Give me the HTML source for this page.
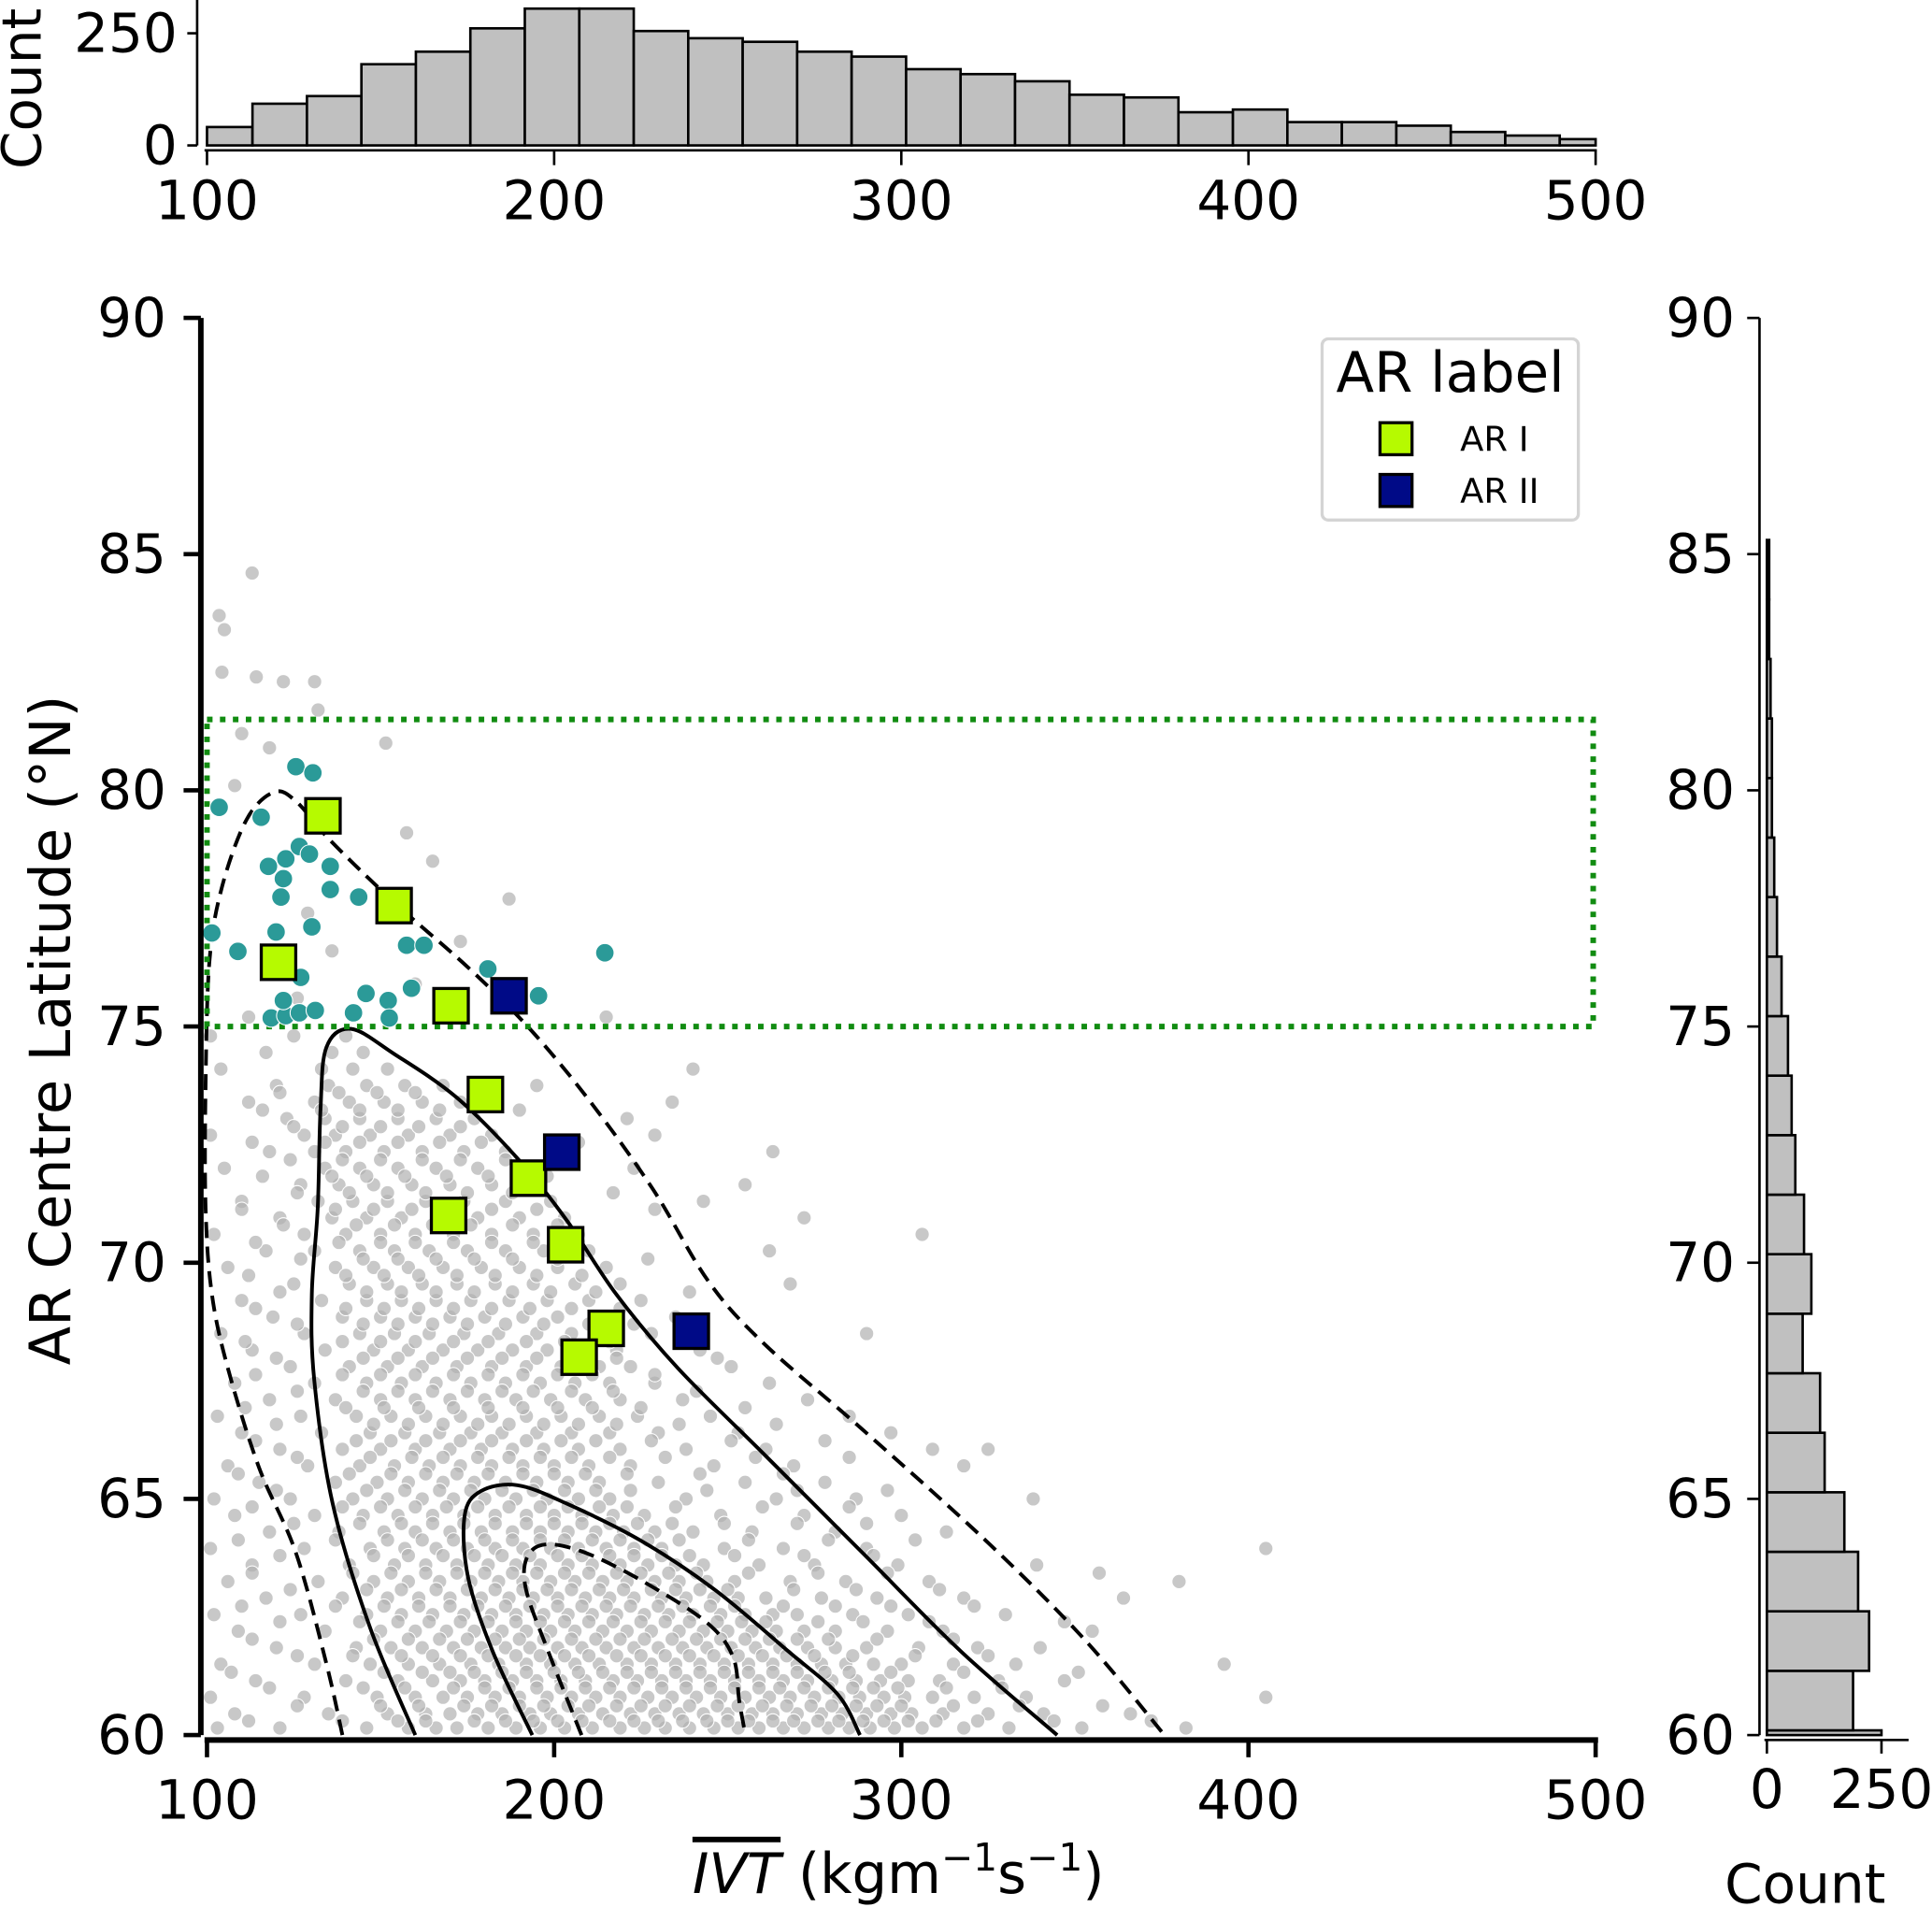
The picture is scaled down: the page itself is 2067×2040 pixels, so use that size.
<!DOCTYPE html>
<html><head><meta charset="utf-8"><style>
html,body{margin:0;padding:0;background:#fff;}
svg{display:block;font-family:"DejaVu Sans","Liberation Sans",sans-serif;}
</style></head><body>
<svg id="chart" width="2067" height="2040" viewBox="0 0 1568 1547.5" xmlns="http://www.w3.org/2000/svg">
<g id="marks"></g>
</svg>
<script>
// ---------- data ----------
const xTicks = [100, 200, 300, 400, 500];
const yTicks = [60, 65, 70, 75, 80, 85, 90];
const topHistEdgeStart = 113.1;
const topHistStep = 15.69;
const topHistCounts = [41, 93, 110, 181, 209, 261, 305, 305, 255, 239, 231, 209, 198, 170, 159, 143, 113, 107, 74, 80, 52, 52, 44, 30, 22, 14];
const topHistTicks = [0, 250];
const rightHistEdgeStart = 60.1;
const rightHistStep = 1.26;
const rightHistLow = 250;
const rightHistCounts = [188, 223, 199, 169, 126, 116, 78, 97, 81, 62, 54, 46, 32, 22, 16, 11, 11, 8, 5, 5];
const rightHistTicks = [0, 250];
const greyRowLat = [60.15,60.45,60.8,61.15,61.5,61.85,62.2,62.55,62.9,63.25,63.6,63.95,64.3,64.65,65.0,65.35,65.7,66.05,66.4,66.75,67.1,67.45,67.8,68.15,68.5,68.85,69.2,69.55,69.9,70.25,70.6,70.95,71.3,71.65,72.0,72.35,72.7,73.05,73.4,73.75,74.1,74.45,74.8,75.2];
const greyRowIVT = [
[103,121,146,158,166,172,181,189,196,203,211,219,226,232,239,246,253,259,266,272,279,285,291,298,306,318,331,352,382],
[108,135,152,163,170,178,185,193,199,207,214,222,229,236,243,250,257,263,270,277,283,290,297,303,312,325,341,366],
[101,128,149,160,168,175,183,190,198,205,212,219,227,234,241,248,255,262,268,275,282,288,295,301,309,321,336,405],
[114,140,155,165,173,180,188,195,202,209,217,224,231,238,245,252,259,266,273,280,287,294,302,311,328,347],
[104,131,147,158,167,176,184,192,199,206,213,221,228,235,242,249,256,263,270,277,284,292,300,315,333,393],
[120,143,153,162,171,179,186,193,201,208,215,223,230,237,244,251,258,265,273,281,290,305,322,340],
[109,134,150,160,169,177,185,192,199,206,214,221,228,236,243,250,257,264,272,281,296,312,355],
[102,127,146,156,165,174,182,189,197,204,211,218,226,233,240,248,255,263,270,286,302,330],
[117,139,152,161,170,179,187,194,201,209,216,223,231,238,246,253,261,277,293,318,364],
[106,132,148,158,167,176,184,191,199,206,214,221,229,236,244,252,268,284,308,380],
[113,141,154,163,172,181,189,196,204,211,219,227,235,243,259,275,299,339],
[101,128,147,157,166,175,183,191,199,207,215,223,231,249,266,290,405],
[118,138,151,160,170,179,188,196,204,212,220,229,240,257,281,313],
[108,131,145,155,165,174,183,192,200,208,217,226,248,272,300],
[102,124,142,152,162,171,180,189,198,207,216,238,264,287,338],
[115,137,149,158,168,177,186,195,204,213,230,255,278],
[106,129,144,154,164,173,182,191,200,210,222,246,269,318],
[121,139,150,160,170,179,188,197,207,219,238,261,309,325],
[110,133,147,157,167,176,185,195,205,216,230,253,297],
[103,127,143,153,163,173,182,192,202,213,224,245,285],
[118,137,150,160,170,180,189,199,209,219,237,273],
[108,131,146,156,166,176,186,196,206,216,229,262],
[124,141,152,162,172,182,192,202,213,222,251],
[113,134,148,158,168,178,188,198,209,218,242],
[104,128,144,154,164,174,184,195,205,228,290],
[119,139,150,160,170,180,191,201,214,235],
[110,133,146,156,166,176,187,198,210,225],
[125,141,152,162,172,183,194,206,219,268],
[106,137,148,158,168,179,190,201,215],
[117,131,144,154,164,175,186,197,210,262],
[102,128,140,150,160,171,182,194,207,306],
[121,136,146,156,167,178,190,203,272],
[110,132,142,152,163,174,186,199,243],
[127,138,148,159,170,182,195,255],
[105,134,144,155,166,178,190,223],
[118,131,140,151,162,174,186,263],
[101,128,137,147,158,170,182,229],
[123,134,144,155,166,177,221],
[112,131,141,151,162,173,234],
[120,135,146,157,168,195],
[104,133,142,152,240],
[117,136,145],
[101,125,140],
[112,215]
];
const greyRow2Lat = [60.3,60.62,61.0,61.33,61.68,62.03,62.4,62.73,63.08,63.43,63.8,64.13,64.48,64.83,65.18,65.53,65.88,66.23,66.58,66.93,67.28,67.63,67.98,68.33,68.7,69.03,69.38,69.73,70.08,70.43,70.8,71.13,71.48,71.83,72.18,72.55,72.88,73.23,73.6];
const greyRow2IVT = [
[112,139,155,163,177,186,194,201,208,216,223,230,237,244,250,256,263,269,276,282,289,295,302,310,322,344,372],
[126,150,161,174,182,190,197,204,210,218,225,232,239,247,253,260,267,274,280,287,293,300,315,334,358],
[118,145,157,171,180,187,195,202,209,216,223,231,238,245,252,259,265,272,279,286,292,299,313,329],
[107,151,162,170,177,185,192,200,207,214,221,228,235,242,249,256,263,270,278,285,297,318,351],
[126,142,156,165,173,181,189,196,203,210,218,225,232,239,246,253,260,267,275,286,304,325],
[113,148,158,167,175,183,190,197,205,212,219,226,234,241,248,255,262,270,279,293,315],
[121,144,155,164,173,181,189,196,203,210,217,225,232,239,247,254,261,276,289,308,347],
[110,137,151,161,170,178,186,193,201,208,215,222,230,237,245,252,266,281,297,321],
[124,146,156,166,175,183,191,198,205,213,220,228,235,242,250,269,287,311],
[113,142,153,163,172,180,188,195,203,210,218,225,233,241,256,276,296,357],
[121,148,158,168,177,185,193,201,208,216,223,231,239,252,272,292],
[109,137,152,162,171,180,188,196,203,211,219,227,236,256,279,304],
[125,144,156,165,174,183,192,200,208,216,224,234,249,270,290],
[113,139,150,160,169,178,187,196,204,213,221,235,260,285],
[120,146,157,167,176,185,194,203,212,222,244,270,296],
[109,141,153,163,172,181,191,200,209,221,242,266],
[126,147,159,168,178,187,196,205,216,232,258,285],
[114,143,153,163,173,182,192,202,212,228,251,278],
[120,148,158,168,178,187,197,207,218,236,264],
[111,140,151,161,171,181,191,201,211,225,255],
[126,145,155,165,175,185,194,205,217,241],
[114,139,150,160,171,181,191,201,211,229],
[120,145,155,165,175,185,195,206,218,247],
[111,139,150,160,171,181,192,203,216,236],
[126,145,155,165,175,186,197,210,223],
[114,140,151,161,171,182,193,205,219],
[121,146,156,166,177,188,199,212,239],
[112,140,151,161,172,183,195,208],
[127,145,155,166,177,188,201,227],
[114,138,150,160,171,182,194,207],
[122,143,154,165,176,188,201],
[110,137,148,159,170,182,195,229],
[126,141,152,163,175,188,217],
[116,136,146,157,169,181,198],
[124,139,150,162,173,186],
[113,134,144,155,167,179,207],
[125,139,150,161,173],
[116,133,144,155,167,190],
[121,138,149,160]
];
const outlierIVT = [103.5,105,113,104.3,114.2,122,131,132,151.5,157.5,187,165,110,118,108,129,136,126,173,160];
const outlierLat = [83.7,83.4,84.6,82.5,82.4,82.3,82.3,81.7,81.0,79.1,77.7,78.5,81.2,80.9,80.1,77.4,76.6,75.6,76.8,75.9];
const tealIVT = [103.5,115.6,125.6,130.5,117.7,122.7,126.6,129.5,122.0,135.5,121.3,135.5,143.7,130.2,119.9,108.9,101.4,157.5,162.5,180.9,214.6,127.0,158.9,145.8,152.2,195.5,118.5,122.7,126.6,131.2,142.2,152.5,122.0];
const tealLat = [79.64,79.43,80.5,80.37,78.39,78.55,78.81,78.65,78.13,78.39,77.74,77.9,77.74,77.11,77.0,76.59,76.98,76.72,76.72,76.22,76.56,76.04,75.81,75.7,75.55,75.65,75.18,75.23,75.29,75.34,75.29,75.18,75.55];
const ar1IVT = [133.4,153.9,120.6,170.3,180.2,192.6,169.6,203.3,215.0,207.2];
const ar1Lat = [79.46,77.56,76.36,75.44,73.56,71.79,71.0,70.38,68.61,68.0];
const ar2IVT = [187.0,202.2,239.5];
const ar2Lat = [75.65,72.34,68.55];
const boxIVT = [100, 499.3];
const boxLat = [75.0, 81.5];
const outerDashIVT = [139.0,134.4,125.6,114.9,106.0,101.4,99.6,99.6,100.7,104.3,111.4,119.2,125.6,135.5,153.9,175.2,193.0,210.7,228.5,244.5,260.4,288.8,324.3,352.7,375.8];
const outerDashLat = [60.0,61.51,63.86,65.68,67.77,69.34,71.16,73.77,76.38,77.95,79.38,79.96,79.77,78.94,77.63,76.25,74.95,73.38,71.55,69.6,68.29,66.47,64.12,62.03,60.0];
const outerSolidIVT = [160.0,146.9,136.2,130.9,130.2,131.9,132.7,134.4,141.5,153.9,171.7,189.4,203.6,217.8,235.6,260.4,288.8,317.2,344.9];
const outerSolidLat = [60,62.29,64.9,67.51,69.34,71.16,73.25,74.56,74.95,74.42,73.51,72.21,70.9,69.34,67.77,65.95,63.86,61.77,60];
const innerSolidIVT = [193.7,182.3,175.2,174.2,178.8,189.4,203.6,224.9,246.2,267.5,281.7,288.1];
const innerSolidLat = [60,61.77,63.34,64.64,65.16,65.29,64.9,64.12,63.08,61.77,60.86,60];
const innerDashIVT = [207.9,198.3,191.9,192.3,198.3,210.7,228.5,244.5,251.6,253.3,255.1];
const innerDashLat = [60,61.77,63.08,63.78,64.04,63.81,63.13,62.35,61.64,60.73,60];

// ---------- scales ----------
const X0 = 168, X1 = 1295, Y60 = 1408, Y90 = 258;
const sx = v => X0 + (v - 100) * (X1 - X0) / 400;
const sy = v => Y60 - (v - 60) * (Y60 - Y90) / 30;
const TOP_BASE = 118, topPx = 91 / 250;
const tyc = c => TOP_BASE - c * topPx;
const R_BASE = 1434, rPx = 93 / 250;
const rxc = c => R_BASE + c * rPx;

const NS = "http://www.w3.org/2000/svg";
const root = document.getElementById('marks');
function mk(tag, attrs, parent) {
  const e = document.createElementNS(NS, tag);
  for (const k in attrs) e.setAttribute(k, attrs[k]);
  (parent || root).appendChild(e);
  return e;
}
function txt(s, attrs, parent) { const e = mk('text', attrs, parent); e.textContent = s; return e; }
const FS = 44;

// ---------- top histogram ----------
const gTop = mk('g', {});


for (let i = 0; i < topHistCounts.length; i++) {
  let a = i === 0 ? 100 : topHistEdgeStart + (i - 1) * topHistStep;
  let b = Math.min(500, topHistEdgeStart + i * topHistStep);
  const r = mk('rect', {x: sx(a), y: tyc(topHistCounts[i]), width: sx(b) - sx(a), height: TOP_BASE - tyc(topHistCounts[i]), fill: '#c0c0c0', stroke: '#000', 'stroke-width': 2}, gTop);
  
  
}
mk('line', {x1: 160, y1: 0, x2: 160, y2: 118, stroke: '#000', 'stroke-width': 2}, gTop);
mk('line', {x1: 166, y1: 122, x2: 1296, y2: 122, stroke: '#000', 'stroke-width': 2}, gTop);
topHistTicks.forEach(t => {
  mk('line', {x1: 152, y1: tyc(t), x2: 160, y2: tyc(t), stroke: '#000', 'stroke-width': 2}, gTop);
  const l = txt(String(t), {x: 144, y: tyc(t) + 15, 'font-size': FS, 'text-anchor': 'end'}, gTop);
  
  
});
xTicks.forEach(t => {
  mk('line', {x1: sx(t), y1: 122, x2: sx(t), y2: 134, stroke: '#000', 'stroke-width': 2}, gTop);
  const l = txt(String(t), {x: sx(t), y: 178, 'font-size': FS, 'text-anchor': 'middle'}, gTop);
  
  
});
const tc = txt('Count', {x: 0, y: 0, 'font-size': FS, 'text-anchor': 'middle', transform: 'translate(33,72) rotate(-90)'}, gTop);



// ---------- right histogram ----------
const gR = mk('g', {});


{
  const r0 = mk('rect', {x: R_BASE, y: sy(rightHistEdgeStart), width: rxc(rightHistLow) - R_BASE, height: sy(60) - sy(rightHistEdgeStart), fill: '#c0c0c0', stroke: '#000', 'stroke-width': 2}, gR);
  
  
}
for (let i = 0; i < rightHistCounts.length; i++) {
  const a = rightHistEdgeStart + i * rightHistStep, b = a + rightHistStep;
  const r = mk('rect', {x: R_BASE, y: sy(b), width: rxc(rightHistCounts[i]) - R_BASE, height: sy(a) - sy(b), fill: '#c0c0c0', stroke: '#000', 'stroke-width': 2}, gR);
  
  
}
mk('line', {x1: 1428, y1: sy(90), x2: 1428, y2: sy(60), stroke: '#000', 'stroke-width': 2}, gR);
mk('line', {x1: 1432, y1: 1412, x2: 1549, y2: 1412, stroke: '#000', 'stroke-width': 2}, gR);
yTicks.forEach(t => {
  mk('line', {x1: 1418, y1: sy(t), x2: 1428, y2: sy(t), stroke: '#000', 'stroke-width': 2}, gR);
  const l = txt(String(t), {x: 1408, y: sy(t) + 15, 'font-size': FS, 'text-anchor': 'end'}, gR);
  
  
});
rightHistTicks.forEach(t => {
  mk('line', {x1: rxc(t), y1: 1412, x2: rxc(t), y2: 1423, stroke: '#000', 'stroke-width': 2}, gR);
  const l = txt(String(t), {x: rxc(t), y: 1467, 'font-size': FS, 'text-anchor': 'middle'}, gR);
  
  
});
const rc = txt('Count', {x: 1465, y: 1544, 'font-size': FS, 'text-anchor': 'middle'}, gR);



// ---------- main scatter ----------
const gM = mk('g', {});


const gGrey = mk('g', {}, gM);


function greyDot(v, lat) {
  const c = mk('circle', {cx: sx(v), cy: sy(lat), r: 5.8, fill: '#b0b0b0', 'fill-opacity': 0.7, stroke: '#fff', 'stroke-width': 0.8}, gGrey);
  
  
}
greyRowLat.forEach((lat, j) => greyRowIVT[j].forEach(v => greyDot(v, lat)));
greyRow2Lat.forEach((lat, j) => greyRow2IVT[j].forEach(v => greyDot(v, lat)));
outlierIVT.forEach((v, i) => greyDot(v, outlierLat[i]));

// contours
function curve(xs, ys, dash, name) {
  const pts = xs.map((v, i) => [sx(v), sy(ys[i])]);
  let d = 'M' + pts[0][0] + ',' + pts[0][1];
  for (let i = 0; i < pts.length - 1; i++) {
    const p0 = pts[Math.max(0, i - 1)], p1 = pts[i], p2 = pts[i + 1], p3 = pts[Math.min(pts.length - 1, i + 2)];
    const c1 = [p1[0] + (p2[0] - p0[0]) / 6, p1[1] + (p2[1] - p0[1]) / 6];
    const c2 = [p2[0] - (p3[0] - p1[0]) / 6, p2[1] - (p3[1] - p1[1]) / 6];
    d += ' C' + c1.join(',') + ' ' + c2.join(',') + ' ' + p2.join(',');
  }
  const p = mk('path', {d: d, fill: 'none', stroke: '#000', 'stroke-width': 3, 'stroke-dasharray': dash ? '13,7' : 'none'}, gM);
  
  
}
curve(outerDashIVT, outerDashLat, true, 'density-contour-outer-dashed');
curve(outerSolidIVT, outerSolidLat, false, 'density-contour-outer-solid');
curve(innerSolidIVT, innerSolidLat, false, 'density-contour-inner-solid');
curve(innerDashIVT, innerDashLat, true, 'density-contour-inner-dashed');

const box = mk('rect', {x: sx(boxIVT[0]), y: sy(boxLat[1]), width: sx(boxIVT[1]) - sx(boxIVT[0]), height: sy(boxLat[0]) - sy(boxLat[1]), fill: 'none', stroke: '#118c11', 'stroke-width': 4.5, 'stroke-dasharray': '4.5,6'}, gM);



for (let i = 0; i < tealIVT.length; i++) {
  const c = mk('circle', {cx: sx(tealIVT[i]), cy: sy(tealLat[i]), r: 7.5, fill: '#2b9a98', stroke: '#fff', 'stroke-width': 0.8}, gM);
  
  
}
for (let i = 0; i < ar1IVT.length; i++) {
  const r = mk('rect', {x: sx(ar1IVT[i]) - 14, y: sy(ar1Lat[i]) - 14, width: 28, height: 28, fill: '#b6fa00', stroke: '#000', 'stroke-width': 2.5}, gM);
  
  
}
for (let i = 0; i < ar2IVT.length; i++) {
  const r = mk('rect', {x: sx(ar2IVT[i]) - 14, y: sy(ar2Lat[i]) - 14, width: 28, height: 28, fill: '#000a87', stroke: '#000', 'stroke-width': 2.5}, gM);
  
  
}
// axes
mk('line', {x1: 163, y1: sy(90), x2: 163, y2: sy(60), stroke: '#000', 'stroke-width': 4.5}, gM);
mk('line', {x1: 166, y1: 1412, x2: 1297, y2: 1412, stroke: '#000', 'stroke-width': 4.5}, gM);
yTicks.forEach(t => {
  mk('line', {x1: 149, y1: sy(t), x2: 163, y2: sy(t), stroke: '#000', 'stroke-width': 3.5}, gM);
  const l = txt(String(t), {x: 135, y: sy(t) + 15, 'font-size': FS, 'text-anchor': 'end'}, gM);
  
  
});
xTicks.forEach(t => {
  mk('line', {x1: sx(t), y1: 1412, x2: sx(t), y2: 1426, stroke: '#000', 'stroke-width': 3.5}, gM);
  const l = txt(String(t), {x: sx(t), y: 1476, 'font-size': FS, 'text-anchor': 'middle'}, gM);
  
  
});
const yl = txt('AR Centre Latitude (°N)', {x: 0, y: 0, 'font-size': 46, 'text-anchor': 'middle', transform: 'translate(57,836) rotate(-90)'}, gM);


const xl = mk('text', {x: 562, y: 1536, 'font-size': 45}, gM);


xl.innerHTML = '<tspan font-style="italic" text-decoration="overline">IVT</tspan> (kgm<tspan dy="-18" font-size="31">−1</tspan><tspan dy="18">s</tspan><tspan dy="-18" font-size="31">−1</tspan><tspan dy="18">)</tspan>';

// legend
const gL = mk('g', {});


mk('rect', {x: 1073, y: 275, width: 208, height: 147, rx: 5, fill: '#fff', stroke: '#d4d4d4', 'stroke-width': 2.5}, gL);
const lt = txt('AR label', {x: 1177, y: 318, 'font-size': 45, 'text-anchor': 'middle'}, gL);


const le1 = mk('rect', {x: 1120, y: 343, width: 26, height: 26, fill: '#b6fa00', stroke: '#000', 'stroke-width': 2.5}, gL);


txt('AR I', {x: 1185, y: 366, 'font-size': 28}, gL);
const le2 = mk('rect', {x: 1120, y: 385, width: 26, height: 26, fill: '#000a87', stroke: '#000', 'stroke-width': 2.5}, gL);


txt('AR II', {x: 1185, y: 408, 'font-size': 28}, gL);
</script>
</body></html>
